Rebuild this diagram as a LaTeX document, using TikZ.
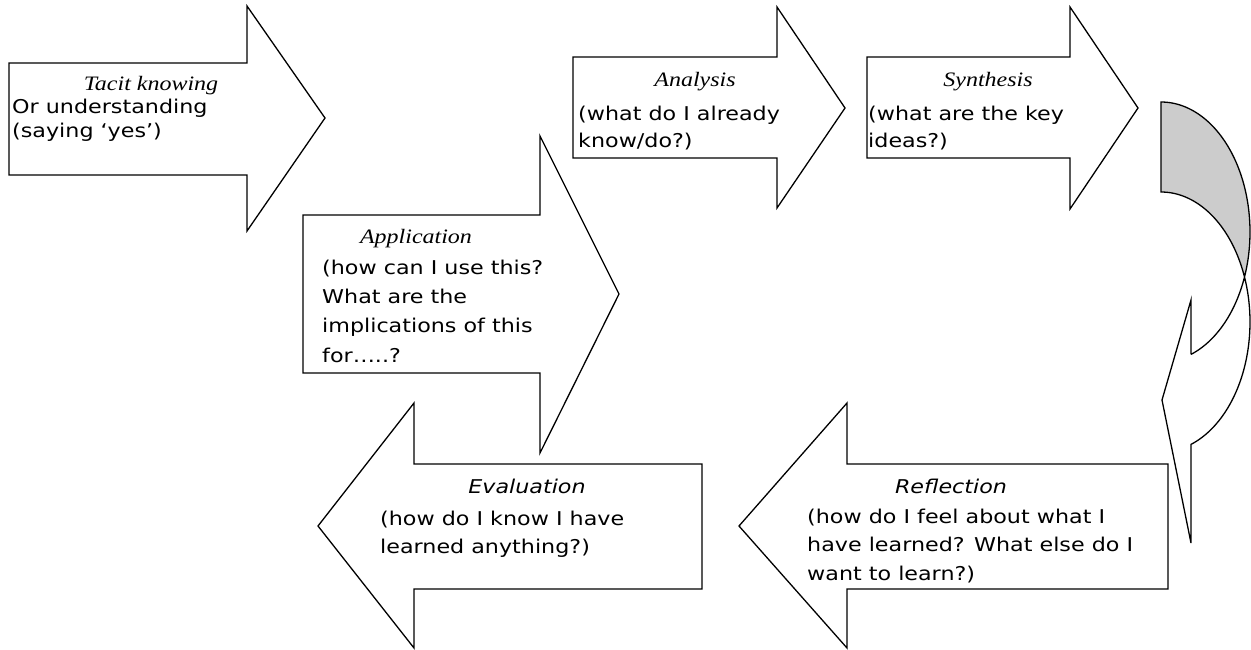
\documentclass[tikz,border=0pt]{standalone}
\usepackage{fontspec}
\setmainfont{Liberation Serif}[FakeStretch=1.17]
\setsansfont{DejaVu Sans}[FakeStretch=1.17]
\definecolor{backgray}{RGB}{204,204,204}
\begin{document}
\begin{tikzpicture}[x=1pt,y=-1pt,
  blockarrow/.style={draw=black, line width=1.3pt, fill=white, line join=miter},
  ribbon/.style={draw=black, line width=1.3pt, line join=miter},
  titleserif/.style={font=\fontsize{20.5}{24}\selectfont\itshape, inner sep=0pt, anchor=base},
  titlesans/.style={font=\sffamily\fontsize{19}{24}\selectfont\itshape, inner sep=0pt, anchor=base},
  bodytext/.style={inner sep=0pt, align=left, anchor=north west},
  bodyfont/.style={font=\sffamily\fontsize{19}{#1}\selectfont}
]
% page
\fill[white] (0,0) rectangle (1251,650);
\useasboundingbox (0,0) rectangle (1251,650);

% block arrows pointing right
\draw[blockarrow] (9,63) -- (247,63) -- (247,6) -- (325,118) -- (247,231) -- (247,175) -- (9,175) -- cycle;
\draw[blockarrow] (573,57) -- (777,57) -- (777,7) -- (845,108) -- (777,208) -- (777,158) -- (573,158) -- cycle;
\draw[blockarrow] (867,57) -- (1070,57) -- (1070,7) -- (1138,108) -- (1070,209) -- (1070,158) -- (867,158) -- cycle;
\draw[blockarrow] (303,215) -- (540,215) -- (540,136) -- (619,294) -- (540,453) -- (540,373) -- (303,373) -- cycle;

% block arrows pointing left
\draw[blockarrow] (318,526) -- (414,403) -- (414,464) -- (702,464) -- (702,589) -- (414,589) -- (414,648) -- cycle;
\draw[blockarrow] (739,526) -- (847,403) -- (847,464) -- (1168,464) -- (1168,589) -- (847,589) -- (847,648) -- cycle;

% curved ribbon arrow: back face (grey) between the two ellipses
\fill[backgray]
  plot[domain=90:-20.25, samples=60] ({1161+89*cos(\x)},{232-130*sin(\x)})
  -- plot[domain=20.25:90, samples=60] ({1161+89*cos(\x)},{322-130*sin(\x)})
  -- cycle;
% curved ribbon arrow: outline with head
\coordinate (rb-top) at (1161,102);
\coordinate (rb-bot) at (1161,192);
\coordinate (hd-in) at (1191,354.4);
\coordinate (hd-up) at (1191,300);
\coordinate (hd-tip) at (1162,400);
\coordinate (hd-low) at (1191,543);
\coordinate (hd-out) at (1191,444.4);
\draw[ribbon] (rb-bot) -- (rb-top)
  -- plot[domain=90:-70.3, samples=100] ({1161+89*cos(\x)},{232-130*sin(\x)})
  -- (hd-in) -- (hd-up) -- (hd-tip) -- (hd-low) -- (hd-out)
  -- plot[domain=-70.3:90, samples=100] ({1161+89*cos(\x)},{322-130*sin(\x)})
  -- (rb-bot);

% texts
\node[titleserif] (tacitT) at (151,91) {Tacit knowing};
\node[bodytext, bodyfont=24] (tacitB) at (12,97) {\rule{0pt}{16pt}Or understanding\\(saying ‘yes’)};

\node[titleserif] (analysisT) at (695,87) {Analysis};
\node[bodytext, bodyfont=27] (analysisB) at (578,104) {\rule{0pt}{16pt}(what do I already\\know/do?)};

\node[titleserif] (synthesisT) at (988,87) {Synthesis};
\node[bodytext, bodyfont=27] (synthesisB) at (868,104) {\rule{0pt}{16pt}(what are the key\\ideas?)};

\node[titleserif] (applicationT) at (416,243) {Application};
\node[bodytext, bodyfont=29.3] (applicationB) at (322,258) {\rule{0pt}{16pt}(how can I use this?\\What are the\\implications of this\\for…..?};

\node[titlesans] (evaluationT) at (527,493) {Evaluation};
\node[bodytext, bodyfont=28] (evaluationB) at (380,509) {\rule{0pt}{16pt}(how do I know I have\\learned anything?)};

\node[titlesans] (reflectionT) at (951,493) {Reflection};
\node[bodytext, bodyfont=28.5] (reflectionB) at (807,507) {\rule{0pt}{16pt}(how do I feel about what I\\have learned? What else do I\\want to learn?)};
\end{tikzpicture}
\end{document}
